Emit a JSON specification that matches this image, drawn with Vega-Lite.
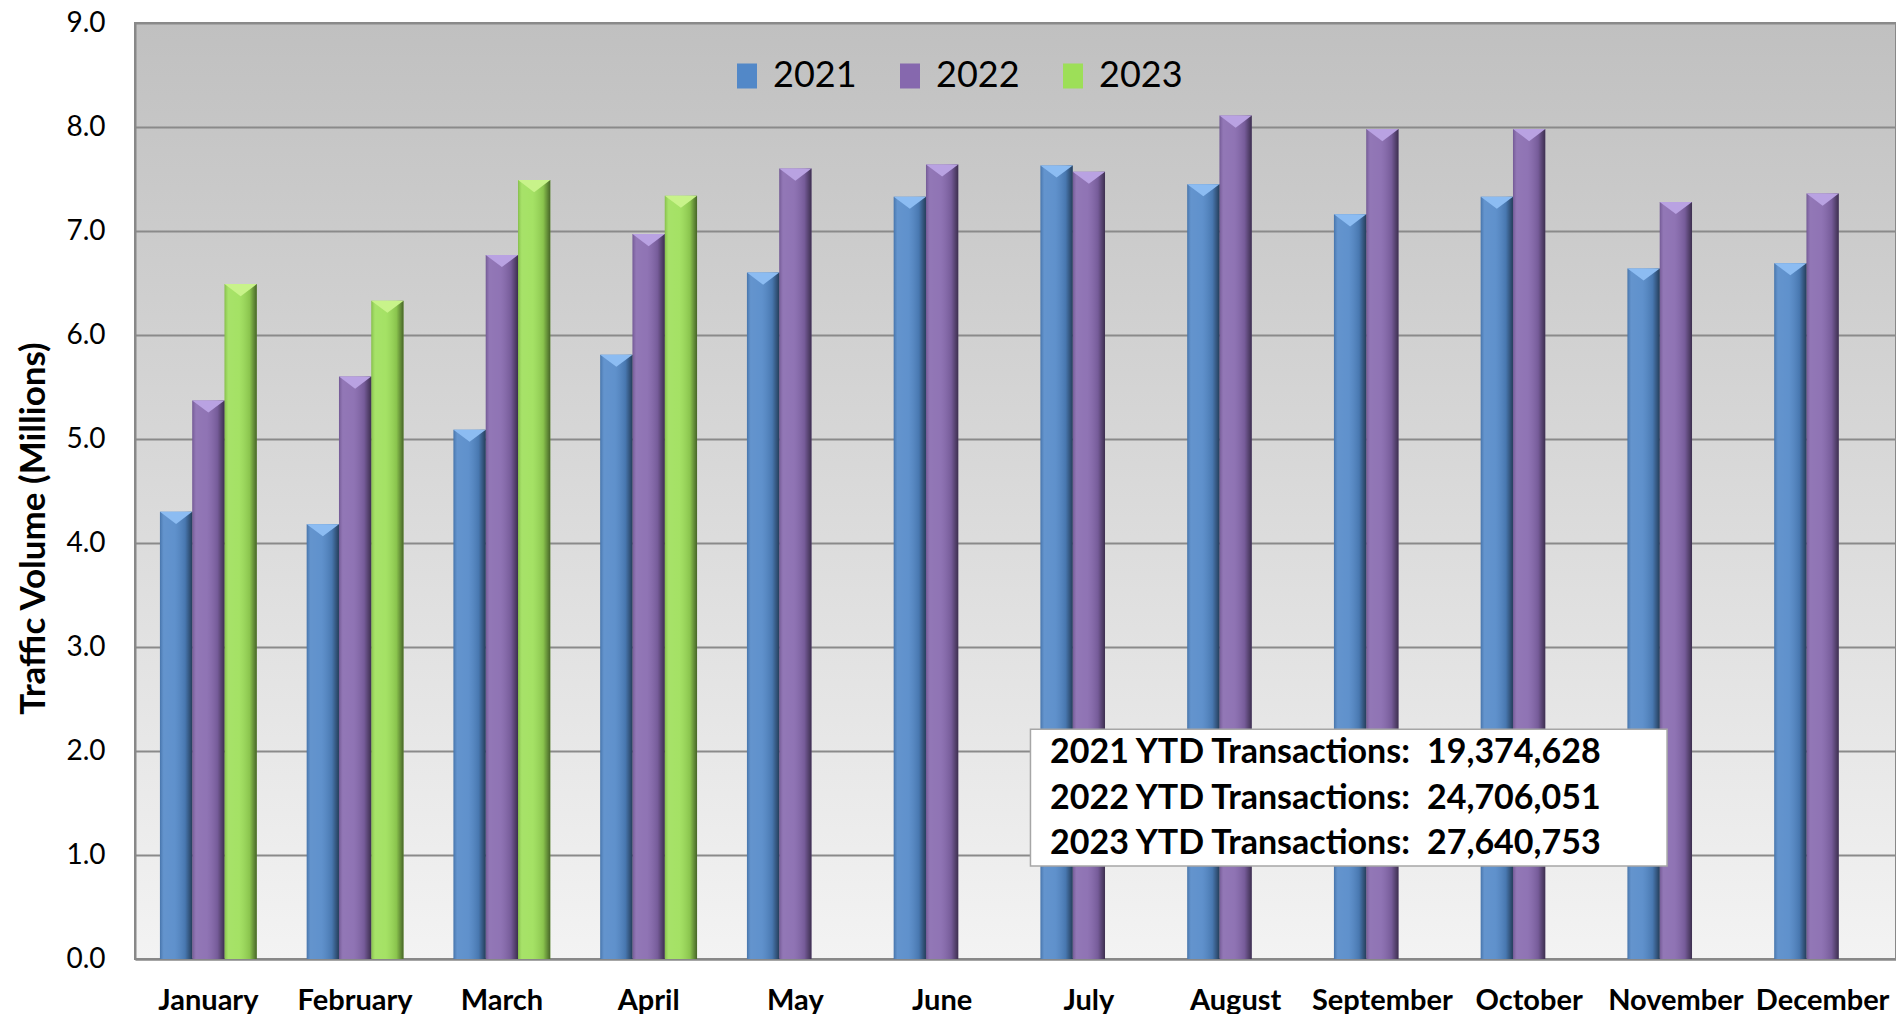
{
  "$schema": "https://vega.github.io/schema/vega-lite/v6.json",
  "width": 1761,
  "height": 936,
  "autosize": {"type": "none"},
  "padding": {"left": 135, "top": 23, "right": 0, "bottom": 55},
  "background": "white",
  "title": {
    "text": "2023 Year-to-Date Increase Over 2022: 11.9%",
    "fontSize": 39, "font": "Lato", "fontWeight": "bold", "color": "black",
    "anchor": "middle", "frame": "group", "baseline": "alphabetic", "offset": 5
  },
  "config": {
    "font": "Lato",
    "view": {
      "fill": {"gradient": "linear", "x1": 0, "y1": 0, "x2": 0, "y2": 1,
        "stops": [{"offset": 0, "color": "#c0c0c0"}, {"offset": 1, "color": "#f3f3f3"}]},
      "stroke": "#888888", "strokeWidth": 2
    }
  },
  "datasets": {
    "traffic": [
      {"month": "January", "year": "2021", "value": 4.30},
      {"month": "January", "year": "2022", "value": 5.37},
      {"month": "January", "year": "2023", "value": 6.49},
      {"month": "February", "year": "2021", "value": 4.18},
      {"month": "February", "year": "2022", "value": 5.60},
      {"month": "February", "year": "2023", "value": 6.33},
      {"month": "March", "year": "2021", "value": 5.09},
      {"month": "March", "year": "2022", "value": 6.77},
      {"month": "March", "year": "2023", "value": 7.49},
      {"month": "April", "year": "2021", "value": 5.81},
      {"month": "April", "year": "2022", "value": 6.97},
      {"month": "April", "year": "2023", "value": 7.34},
      {"month": "May", "year": "2021", "value": 6.60},
      {"month": "May", "year": "2022", "value": 7.60},
      {"month": "June", "year": "2021", "value": 7.33},
      {"month": "June", "year": "2022", "value": 7.64},
      {"month": "July", "year": "2021", "value": 7.63},
      {"month": "July", "year": "2022", "value": 7.57},
      {"month": "August", "year": "2021", "value": 7.45},
      {"month": "August", "year": "2022", "value": 8.11},
      {"month": "September", "year": "2021", "value": 7.16},
      {"month": "September", "year": "2022", "value": 7.98},
      {"month": "October", "year": "2021", "value": 7.33},
      {"month": "October", "year": "2022", "value": 7.98},
      {"month": "November", "year": "2021", "value": 6.64},
      {"month": "November", "year": "2022", "value": 7.28},
      {"month": "December", "year": "2021", "value": 6.69},
      {"month": "December", "year": "2022", "value": 7.36}
    ]
  },
  "layer": [
    {
      "data": {"name": "traffic"},
      "encoding": {
        "x": {
          "field": "month", "type": "nominal",
          "sort": ["January", "February", "March", "April", "May", "June", "July", "August", "September", "October", "November", "December"],
          "scale": {"paddingInner": 0.34, "paddingOuter": 0.17}
        },
        "xOffset": {
          "field": "year", "type": "nominal",
          "scale": {"domain": ["2021", "2022", "2023"], "paddingInner": 0, "paddingOuter": 0}
        },
        "y": {"field": "value", "type": "quantitative", "scale": {"domain": [0, 9], "nice": false}}
      },
      "layer": [
        {
          "mark": {"type": "bar", "strokeWidth": 0},
          "encoding": {
            "x": {
              "field": "month", "type": "nominal",
              "sort": ["January", "February", "March", "April", "May", "June", "July", "August", "September", "October", "November", "December"],
              "scale": {"paddingInner": 0.34, "paddingOuter": 0.17},
              "axis": {
                "title": null, "labelAngle": 0, "labelFontSize": 29, "labelFont": "Lato", "labelFontWeight": "bold",
                "labelColor": "black", "ticks": false, "labelPadding": 27, "domainColor": "#888888", "domainWidth": 2, "grid": false
              }
            },
            "y": {
              "field": "value", "type": "quantitative", "scale": {"domain": [0, 9], "nice": false},
              "axis": {
                "title": "Traffic Volume (Millions)", "titleFontSize": 35, "titleFont": "Lato", "titleFontWeight": "bold",
                "titleColor": "black", "titlePadding": 14, "titleY": 505, "labelFontSize": 28, "labelFont": "Lato", "labelColor": "black",
                "format": ".1f", "values": [0, 1, 2, 3, 4, 5, 6, 7, 8, 9], "ticks": false, "labelPadding": 30,
                "domainColor": "#888888", "domainWidth": 2, "grid": true, "gridColor": "#8a8a8a", "gridWidth": 2
              }
            },
            "color": {
              "field": "year", "type": "nominal",
              "scale": {"domain": ["2021", "2022", "2023"], "range": ["#5288c8", "#8668ae", "#9ddf58"]},
              "legend": {
                "title": null, "orient": "none", "legendX": 594, "legendY": 35, "direction": "horizontal",
                "labelFontSize": 36, "labelFont": "Lato", "labelColor": "black",
                "symbolType": "M-0.8,-1H0.8V1H-0.8Z", "symbolSize": 625, "symbolStrokeWidth": 0, "symbolOpacity": 1,
                "labelOffset": 8, "columnPadding": 35, "padding": 0
              }
            }
          }
        },
        {
          "mark": {
            "type": "bar", "strokeWidth": 0,
            "fill": {"gradient": "linear", "x1": 0, "y1": 0, "x2": 1, "y2": 0,
              "stops": [
                {"offset": 0, "color": "rgba(0,0,0,0.15)"},
                {"offset": 0.12, "color": "rgba(255,255,255,0.10)"},
                {"offset": 0.45, "color": "rgba(255,255,255,0.08)"},
                {"offset": 0.78, "color": "rgba(0,0,0,0.12)"},
                {"offset": 1, "color": "rgba(0,0,0,0.55)"}
              ]}
          }
        },
        {
          "mark": {"type": "point", "shape": "M-1,0L1,0L0,0.75Z", "filled": true, "opacity": 1, "size": 1040, "strokeWidth": 0},
          "encoding": {
            "color": {
              "field": "year", "type": "nominal",
              "scale": {"domain": ["2021", "2022", "2023"], "range": ["#8cbcf2", "#b9a2e2", "#c8f38a"]},
              "legend": null
            }
          }
        }
      ],
      "resolve": {"scale": {"color": "independent"}}
    },
    {
      "data": {"values": [{}]},
      "layer": [
        {
          "mark": {"type": "rect", "fill": "white", "stroke": "#a6a6a6", "strokeWidth": 1.5},
          "encoding": {
            "x": {"datum": 6.102, "type": "quantitative", "scale": {"domain": [0, 12]}, "axis": null},
            "x2": {"datum": 10.44},
            "y": {"datum": 2.21, "type": "quantitative"},
            "y2": {"datum": 0.894}
          }
        },
        {
          "mark": {
            "type": "text", "text": ["2021 YTD Transactions:", "2022 YTD Transactions:", "2023 YTD Transactions:"],
            "align": "left", "baseline": "middle", "fontSize": 34, "fontWeight": "bold", "font": "Lato",
            "lineHeight": 45.5, "color": "black"
          },
          "encoding": {
            "x": {"datum": 6.235, "type": "quantitative", "scale": {"domain": [0, 12]}, "axis": null},
            "y": {"datum": 1.98, "type": "quantitative"}
          }
        },
        {
          "mark": {
            "type": "text", "text": ["19,374,628", "24,706,051", "27,640,753"],
            "align": "left", "baseline": "middle", "fontSize": 34, "fontWeight": "bold", "font": "Lato",
            "lineHeight": 45.5, "color": "black"
          },
          "encoding": {
            "x": {"datum": 8.804, "type": "quantitative", "scale": {"domain": [0, 12]}, "axis": null},
            "y": {"datum": 1.98, "type": "quantitative"}
          }
        }
      ]
    }
  ],
  "resolve": {"scale": {"x": "independent"}}
}
